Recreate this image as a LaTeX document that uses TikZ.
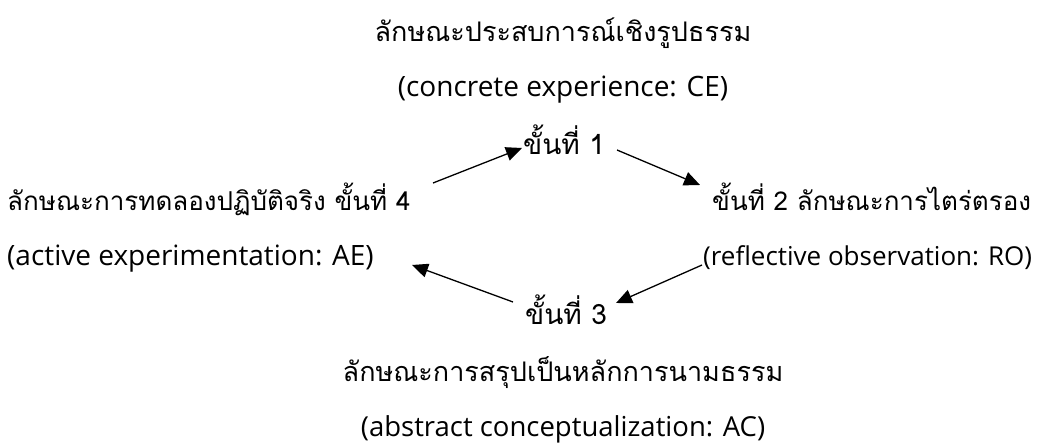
\documentclass[tikz,border=0pt]{standalone}
\usepackage{fontspec}
\setmainfont{Open Sans}
\newfontfamily\thai[Script=Thai]{Loma}
\usetikzlibrary{arrows.meta}
\begin{document}
\begin{tikzpicture}[x=1pt,y=-1pt,
  lbl/.style={inner sep=0pt, font=\fontsize{#1}{32}\selectfont},
  lbl/.default=27,
  th/.style={inner sep=0pt, font=\thai\fontsize{#1}{32}\selectfont},
  th/.default=27,
  stp/.style={inner sep=0pt, font=\thai\fontsize{28}{32}\selectfont},
  arr/.style={line width=1.3pt, -{Triangle[length=16pt,width=14pt]}}]
\fill[white] (0,0) rectangle (1062,443);
\useasboundingbox (0,0) rectangle (1062,443);
% top
\node[th, anchor=base] (ceth) at (563,42) {ลักษณะประสบการณ์เชิงรูปธรรม};
\node[lbl=28, anchor=base] (ceen) at (563,97) {(concrete experience: CE)};
\node[stp, anchor=base] (s1) at (564,155) {ขั้นที่ 1};
% left
\node[th=26, anchor=base west] (aeth) at (7,211) {ลักษณะการทดลองปฏิบัติจริง ขั้นที่ 4};
\node[lbl=28, anchor=base west] (aeen) at (7,266) {(active experimentation: AE)};
% right
\node[th=26, anchor=base west] (roth) at (712,211) {ขั้นที่ 2 ลักษณะการไตร่ตรอง};
\node[lbl=26, anchor=base west] (roen) at (703,266) {(reflective observation: RO)};
% bottom
\node[stp, anchor=base] (s3) at (566,325) {ขั้นที่ 3};
\node[th, anchor=base] (acth) at (563,381) {ลักษณะการสรุปเป็นหลักการนามธรรม};
\node[lbl=27.5, anchor=base] (acen) at (563,436) {(abstract conceptualization: AC)};
% arrow end points
\coordinate (a1s) at (433,183); \coordinate (a1e) at (522,148);
\coordinate (a2s) at (617,150); \coordinate (a2e) at (700,185);
\coordinate (a3s) at (702,265); \coordinate (a3e) at (616,303);
\coordinate (a4s) at (513,302); \coordinate (a4e) at (412,265);
\draw[arr] (a1s) -- (a1e);
\draw[arr] (a2s) -- (a2e);
\draw[arr] (a3s) -- (a3e);
\draw[arr] (a4s) -- (a4e);
\end{tikzpicture}
\end{document}
